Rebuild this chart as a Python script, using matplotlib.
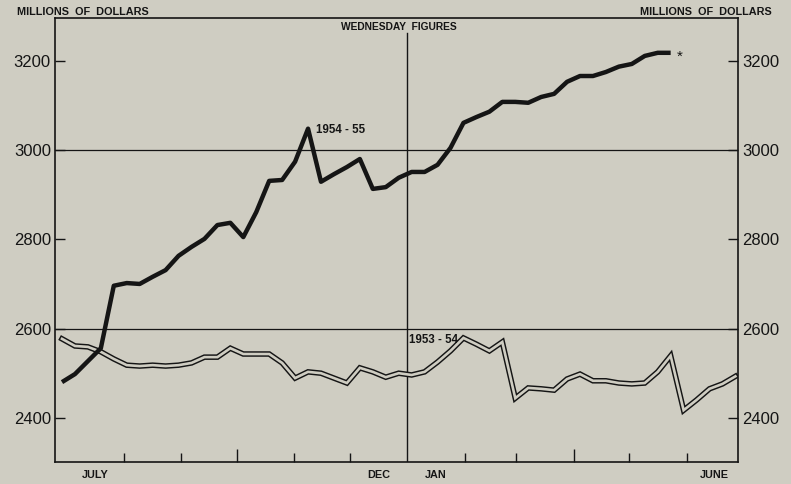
import numpy as np
import matplotlib
matplotlib.use("Agg")
from matplotlib import pyplot as plt
from matplotlib import transforms

plt.rcParams['font.family'] = ['Liberation Sans Narrow', 'Liberation Sans', 'DejaVu Sans']

# weekly (Wednesday) figures, millions of dollars
y_1954_55 = [2480, 2498, 2527, 2556, 2696, 2702, 2700, 2716, 2731, 2763,
             2783, 2801, 2832, 2837, 2805, 2861, 2931, 2933, 2974, 3048,
             2929, 2946, 2962, 2980, 2913, 2917, 2938, 2951, 2951, 2967,
             3005, 3061, 3074, 3086, 3108, 3108, 3106, 3119, 3126, 3153,
             3166, 3166, 3175, 3187, 3193, 3211, 3218, 3218]
y_1953_54 = [2577, 2561, 2559, 2548, 2532, 2518, 2516, 2518, 2516, 2518,
             2523, 2536, 2536, 2556, 2543, 2543, 2543, 2523, 2489, 2503,
             2500, 2489, 2478, 2512, 2503, 2491, 2500, 2496, 2503, 2525,
             2550, 2579, 2565, 2550, 2570, 2444, 2467, 2465, 2462, 2487,
             2498, 2483, 2483, 2478, 2476, 2478, 2503, 2539, 2417, 2440,
             2465, 2476, 2493]
y_ticks = [2400, 2600, 2800, 3000, 3200]
grid_vals = [2600, 3000]
# days in each month July..May, used for month boundaries in weeks
month_days = [31, 31, 30, 31, 30, 31, 31, 28, 31, 30, 31]
month_labels = {'JULY': 0, 'DEC': 5, 'JAN': 6, 'JUNE': 11}

bg = '#cfcdc2'
ink = '#151515'

bounds = 0.37 + np.cumsum(month_days) / 7.0       # Aug 1 .. Jun 1
edges = np.concatenate([[bounds[0] - 31 / 7.0], bounds, [bounds[-1] + 30 / 7.0]])
jan = bounds[5]

fig = plt.figure(figsize=(7.91, 4.84), dpi=100, facecolor=bg)
ax = fig.add_axes([55 / 791, 22 / 484, 683 / 791, 444 / 484], facecolor=bg)
ax.set_xlim(-0.54, 52.2)
ax.set_ylim(2301, 3296)

for g in grid_vals:
    ax.axhline(g, color=ink, lw=0.9, zorder=1)
ax.plot([jan, jan], [2301, 3262], color=ink, lw=1.0, zorder=1)

x53 = np.arange(len(y_1953_54))
ax.plot(x53, y_1953_54, color=ink, lw=4.0, solid_joinstyle='miter', zorder=2)
ax.plot(x53, y_1953_54, color=bg, lw=1.9, solid_joinstyle='miter', zorder=3)

x54 = np.arange(len(y_1954_55))
ax.plot(x54, y_1954_55, color=ink, lw=3.2, solid_joinstyle='round',
        solid_capstyle='butt', zorder=4)
ax.text(x54[-1] + 0.5, y_1954_55[-1] - 8, '*', fontsize=11, color=ink,
        ha='left', va='center')

ax.text(19.6, 3045, '1954 - 55', fontsize=8.3, color=ink, ha='left',
        va='center', fontweight='bold')
ax.text(26.8, 2574, '1953 - 54', fontsize=8.3, color=ink, ha='left',
        va='center', fontweight='bold')
ax.text(26.0, 3276, 'WEDNESDAY  FIGURES', fontsize=7.4, color=ink,
        ha='center', va='center', fontweight='bold')

for s in ax.spines.values():
    s.set_color(ink)
    s.set_linewidth(1.2)

ax.set_yticks(y_ticks)
ax.set_yticklabels([str(v) for v in y_ticks])
ax.tick_params(axis='y', direction='in', length=7, width=1.0, colors=ink,
               labelsize=12, left=True, right=True, labelleft=True,
               labelright=True, pad=3)

tick_pos = [b for i, b in enumerate(bounds) if i != 5]
ax.set_xticks([bounds[2], bounds[8]])
ax.set_xticks([b for b in tick_pos if b not in (bounds[2], bounds[8])], minor=True)
ax.tick_params(axis='x', which='major', direction='in', length=9.5, width=1.0,
               colors=ink, labelbottom=False)
ax.tick_params(axis='x', which='minor', direction='in', length=6.5, width=1.0,
               colors=ink, labelbottom=False)

trans = transforms.blended_transform_factory(ax.transData, ax.transAxes)
for name, m in month_labels.items():
    ax.text((edges[m] + edges[m + 1]) / 2, -0.03, name, transform=trans,
            fontsize=7.8, color=ink, ha='center', va='center', fontweight='bold')

fig.text(17 / 791, 1 - 12 / 484, 'MILLIONS  OF  DOLLARS', fontsize=7.8,
         color=ink, ha='left', va='center', fontweight='bold')
fig.text(772 / 791, 1 - 12 / 484, 'MILLIONS  OF  DOLLARS', fontsize=7.8,
         color=ink, ha='right', va='center', fontweight='bold')

fig.savefig('out.png', dpi=100, facecolor=bg)
